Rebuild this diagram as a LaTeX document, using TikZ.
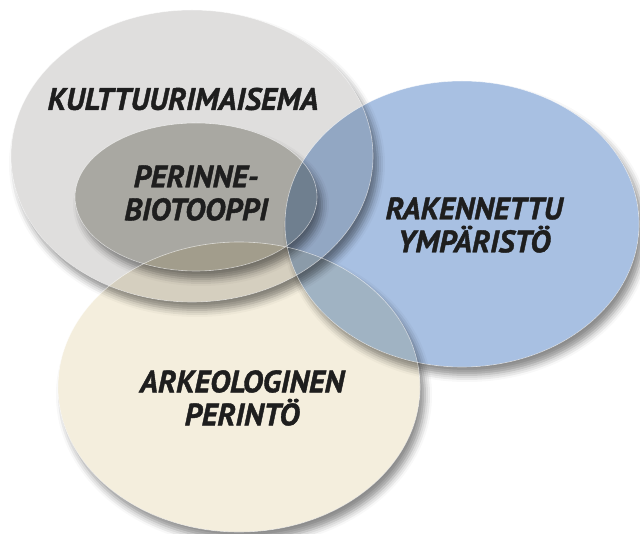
\documentclass[tikz,border=0pt]{standalone}
\usepackage{fontspec}
\setmainfont{PT Sans}[BoldItalicFeatures={FakeBold=1.3}]
\usetikzlibrary{shadows.blur}
\definecolor{kulttuuri}{HTML}{DFDEDD}
\definecolor{perinne}{HTML}{C2C2BC}
\definecolor{rakennettu}{HTML}{A8C0E2}
\definecolor{arkeo}{HTML}{F4EEDD}
\definecolor{ink}{HTML}{1E1E1E}
\tikzset{
  area/.style={blend mode=multiply},
  cast/.style={blur shadow={shadow xshift=5pt,shadow yshift=-8pt,
               shadow blur radius=7pt,shadow opacity=45}},
  rim/.style={draw=white,draw opacity=0.6,line width=0.6pt},
  areatext/.style={font=\bfseries\itshape\fontsize{31}{33}\selectfont,
                   text=ink,align=center,inner sep=0pt}
}

\begin{document}
\begin{tikzpicture}[x=1pt,y=1pt]
  \useasboundingbox (0,0) rectangle (640,533);
  \coordinate (ka) at (192,377);
  \coordinate (pb) at (196,336);
  \coordinate (ry) at (462,309);
  \coordinate (ap) at (239,146);

  % shadows, each cut away under its own ellipse
  \begin{scope}[even odd rule]
    \clip (-20,-20) rectangle (660,553) (ap) ellipse [x radius=181,y radius=145];
    \path[cast] (ap) ellipse [x radius=181,y radius=145];
  \end{scope}
  \begin{scope}[even odd rule]
    \clip (-20,-20) rectangle (660,553) (ry) ellipse [x radius=177,y radius=143];
    \path[cast] (ry) ellipse [x radius=177,y radius=143];
  \end{scope}
  \begin{scope}[even odd rule]
    \clip (-20,-20) rectangle (660,553) (ka) ellipse [x radius=181,y radius=146];
    \path[cast] (ka) ellipse [x radius=181,y radius=146];
  \end{scope}
  \begin{scope}[even odd rule]
    \clip (-20,-20) rectangle (660,553) (pb) ellipse [x radius=121,y radius=74];
    \path[cast] (pb) ellipse [x radius=121,y radius=74];
  \end{scope}

  \fill[area,arkeo] (ap) ellipse [x radius=181,y radius=145];
  \fill[area,rakennettu] (ry) ellipse [x radius=177,y radius=143];
  \fill[area,kulttuuri] (ka) ellipse [x radius=181,y radius=146];
  \fill[area,perinne] (pb) ellipse [x radius=121,y radius=74];

  \draw[rim] (ap) ellipse [x radius=181,y radius=145];
  \draw[rim] (ry) ellipse [x radius=177,y radius=143];
  \draw[rim] (ka) ellipse [x radius=181,y radius=146];
  \draw[rim] (pb) ellipse [x radius=121,y radius=74];

  \node[areatext] (kult) at (183,434) {KULTTUURIMAISEMA};
  \node[areatext] (peri) at (196,340) {PERINNE-\\BIOTOOPPI};
  \node[areatext] (rake) at (474,308) {RAKENNETTU\\YMPÄRISTÖ};
  \node[areatext] (arke) at (242,135) {ARKEOLOGINEN\\PERINTÖ};
\end{tikzpicture}
\end{document}
